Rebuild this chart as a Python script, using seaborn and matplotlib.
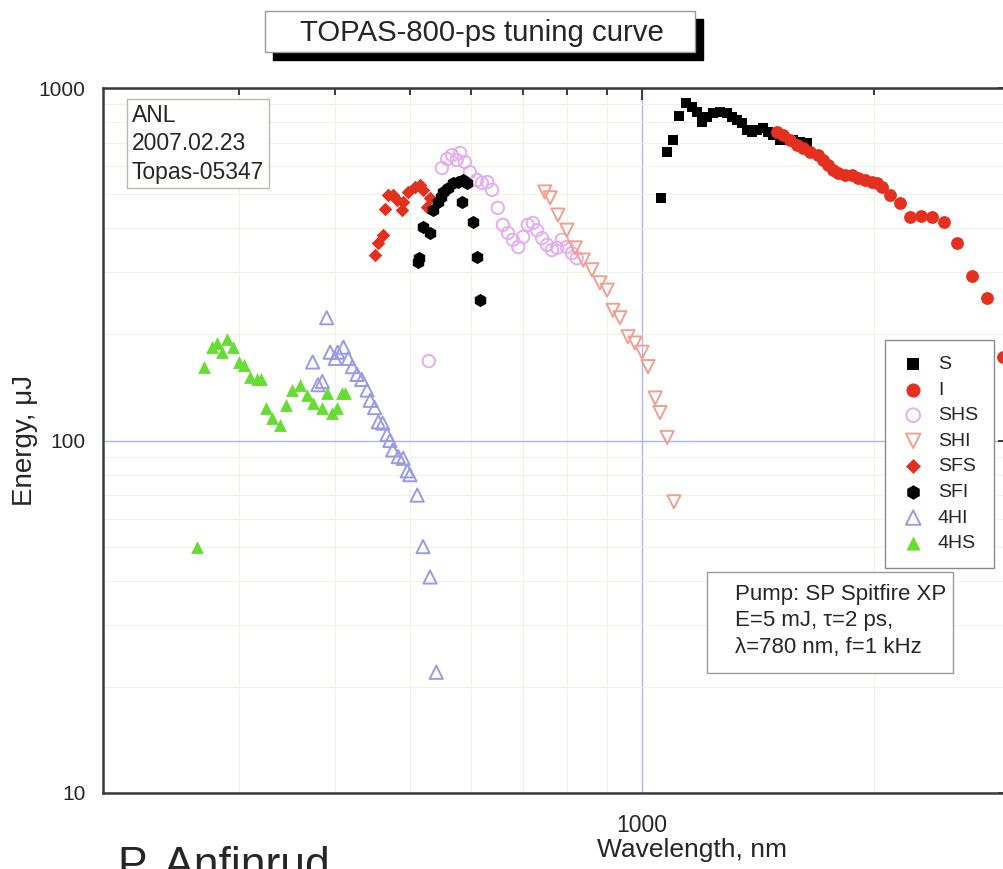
import numpy as np
import pandas as pd
import seaborn as sns
import matplotlib.pyplot as plt
from matplotlib.patches import Rectangle
from matplotlib.ticker import FixedLocator, FixedFormatter, NullFormatter

# values: wavelength (nm) and pulse energy (uJ)
s_wl = [1058, 1078, 1097, 1117, 1140, 1161, 1178, 1196, 1214, 1236, 1262, 1289, 1308,
        1328, 1348, 1368, 1389, 1410, 1435, 1457, 1479, 1510, 1542, 1570, 1603, 1637]
s_e = [488, 658, 712, 833, 907, 883, 855, 801, 827, 849, 855, 849, 827,
       811, 796, 760, 750, 760, 770, 750, 736, 712, 712, 712, 703, 698]

i_wl = [1497, 1523, 1556, 1589, 1618, 1652, 1692, 1717, 1743, 1769, 1796, 1834, 1873, 1906,
        1946, 1987, 2017, 2048, 2097, 2161, 2226, 2301, 2377, 2465, 2562, 2680, 2803, 2940]
i_e = [750, 736, 712, 689, 676, 658, 645, 625, 605, 585, 574, 567, 567, 556,
       548, 541, 538, 524, 497, 472, 431, 434, 431, 417, 363, 293, 254, 172]

shs_wl = [529, 550, 559, 567, 575, 581, 589, 598, 611, 620, 630, 639, 650, 660, 670,
          680, 691, 701, 711, 722, 731, 742, 753, 764, 776, 787, 799, 811, 823]
shs_e = [168, 593, 629, 645, 625, 654, 617, 577, 548, 538, 541, 514, 457, 409, 388,
         371, 354, 378, 409, 414, 395, 375, 359, 347, 352, 371, 354, 340, 329]

shi_wl = [748, 760, 778, 799, 819, 839, 861, 882, 901, 917, 936, 959, 979, 1000,
          1018, 1040, 1055, 1078, 1100]
shi_e = [507, 488, 436, 395, 352, 325, 305, 280, 267, 234, 223, 197, 189, 178,
         162, 132, 120, 102, 67]

sfs_wl = [450, 455, 461, 464, 468, 475, 481, 488, 490, 497, 508, 515, 520, 526, 531]
sfs_e = [336, 363, 383, 454, 497, 497, 481, 451, 475, 507, 524, 531, 514, 460, 488]

sfi_wl = [512, 514, 520, 531, 536, 544, 548, 552, 560, 569, 577, 586, 593, 584, 604, 611, 617]
sfi_e = [321, 330, 403, 388, 451, 475, 490, 507, 520, 538, 541, 548, 538, 475, 417, 332, 250]

fhi_wl = [374, 380, 385, 390, 394, 400, 403, 410, 416, 421, 427, 433, 440, 444,
          450, 455, 461, 467, 471, 475, 483, 490, 496, 500, 511, 520, 531, 541]
fhi_e = [167, 144, 147, 223, 178, 171, 178, 184, 171, 162, 154, 149, 139, 130,
         124, 113, 112, 104, 100, 94, 90, 89, 82, 80, 70, 50, 41, 22]

fhs_wl = [265, 270, 277, 281, 285, 290, 295, 300, 305, 310, 317, 321, 325,
          331, 339, 345, 352, 360, 368, 374, 385, 390, 396, 402, 408, 412]
fhs_e = [50, 162, 184, 189, 178, 194, 184, 167, 164, 151, 149, 149, 124,
         116, 111, 126, 139, 144, 135, 128, 124, 136, 120, 124, 136, 136]

x_major = [1000]
x_major_labels = ['1000']
x_minor = [300, 400, 500, 600, 700, 800, 900, 2000, 3000]
y_major = [10, 100, 1000]
y_major_labels = ['10', '100', '1000']
y_minor = [20, 30, 40, 50, 60, 70, 80, 90, 200, 300, 400, 500, 600, 700, 800, 900]

# name, x, y, marker, colour, filled, size
series = [
    ('S', s_wl, s_e, 's', '#000000', True, 55),
    ('I', i_wl, i_e, 'o', '#e5301f', True, 85),
    ('SHS', shs_wl, shs_e, 'o', '#e4aef0', False, 80),
    ('SHI', shi_wl, shi_e, 'v', '#f0a08e', False, 90),
    ('SFS', sfs_wl, sfs_e, 'D', '#e2301e', True, 48),
    ('SFI', sfi_wl, sfi_e, 'h', '#000000', True, 90),
    ('4HI', fhi_wl, fhi_e, '^', '#9a9ae6', False, 90),
    ('4HS', fhs_wl, fhs_e, '^', '#66dd33', True, 85),
]

sns.set_style('white')
plt.rcParams['font.family'] = ['Liberation Sans', 'DejaVu Sans']

W, H = 1004, 869
def fx(px):
    return px / W
def fy(py):
    return 1 - py / H

fig = plt.figure(figsize=(W / 100, H / 100), dpi=100)
ax = fig.add_axes([fx(103), fy(793), 907 / W, 705 / H])

for name, wl, en, mk, col, filled, size in series:
    sns.scatterplot(x=wl, y=en, marker=mk, s=size, color=col, ax=ax, label=name,
                    linewidth=0 if filled else 1.4, edgecolor=col, zorder=3)
    if not filled:
        ax.collections[-1].set_facecolor('none')
        ax.collections[-1].set_edgecolor(col)

ax.set_xscale('log')
ax.set_yscale('log')
ax.set_xlim(200, 3000)
ax.set_ylim(10, 1000)
ax.xaxis.set_major_locator(FixedLocator(x_major))
ax.xaxis.set_major_formatter(FixedFormatter(x_major_labels))
ax.xaxis.set_minor_locator(FixedLocator(x_minor))
ax.xaxis.set_minor_formatter(NullFormatter())
ax.yaxis.set_major_locator(FixedLocator(y_major))
ax.yaxis.set_major_formatter(FixedFormatter(y_major_labels))
ax.yaxis.set_minor_locator(FixedLocator(y_minor))
ax.yaxis.set_minor_formatter(NullFormatter())

ax.grid(which='minor', color='#eef3ea', lw=0.8)
ax.grid(which='major', color='#aab8f2', lw=1.0)
ax.set_axisbelow(True)

for sp in ax.spines.values():
    sp.set_color('#3a3a3a')
    sp.set_linewidth(1.8)
ax.tick_params(which='major', direction='out', length=8.5, width=1.4, color='#3a3a3a',
               labelsize=15, pad=4)
ax.tick_params(axis='x', which='major', pad=6.5, labelsize=16.5)
ax.tick_params(which='minor', direction='out', length=5, width=1.4, color='#3a3a3a')

# mirrored inward ticks on top and right
ax2 = fig.add_axes(ax.get_position(), frameon=False)
ax2.set_xscale('log')
ax2.set_yscale('log')
ax2.set_xlim(ax.get_xlim())
ax2.set_ylim(ax.get_ylim())
ax2.xaxis.set_major_locator(FixedLocator(x_major))
ax2.xaxis.set_minor_locator(FixedLocator(x_minor))
ax2.yaxis.set_major_locator(FixedLocator(y_major))
ax2.yaxis.set_minor_locator(FixedLocator(y_minor))
ax2.tick_params(which='both', direction='in', top=True, right=True, bottom=False, left=False,
                labeltop=False, labelright=False, labelbottom=False, labelleft=False,
                width=1.4, color='#3a3a3a')
ax2.tick_params(which='major', length=8.5)
ax2.tick_params(which='minor', length=5)
ax2.patch.set_visible(False)

ax.set_xlabel('Wavelength, nm', fontsize=19)
ax.set_ylabel('Energy, \u03bcJ', fontsize=20)
ax.xaxis.set_label_coords((692 - 103) / 907, -0.064)
ax.yaxis.set_label_coords((38 - 103) / 907, 0.5)

leg = ax.legend(loc='upper left', bbox_to_anchor=(fx(885), fy(340)), bbox_transform=fig.transFigure,
                fontsize=14, frameon=True, fancybox=False, framealpha=1, edgecolor='#8a8a8a',
                borderpad=0.8, handlelength=1.3, handletextpad=0.62, labelspacing=0.41,
                borderaxespad=0, markerscale=1.1)
leg.get_frame().set_linewidth(1.0)
leg.set_zorder(5)

# title box with drop shadow
fig.add_artist(Rectangle((fx(273), fy(60)), 430 / W, 41 / H, transform=fig.transFigure,
                         fc='black', ec='black', zorder=2))
fig.add_artist(Rectangle((fx(265), fy(52)), 430 / W, 41 / H, transform=fig.transFigure,
                         fc='white', ec='#9a9a9a', lw=1, zorder=3))
fig.text(fx(482), fy(33), 'TOPAS-800-ps tuning curve', ha='center', va='center',
         fontsize=21.2, zorder=4)

# info boxes
ax.text(fx(132), fy(104), 'ANL\n2007.02.23\nTopas-05347', transform=fig.transFigure,
        ha='left', va='top', fontsize=16.5, linespacing=1.3, zorder=5,
        bbox=dict(boxstyle='square,pad=0.2', fc='white', ec='#b5bdb0', lw=1))

fig.add_artist(Rectangle((fx(707), fy(673)), 246 / W, 101 / H, transform=fig.transFigure,
                         fc='white', ec='#9a9a9a', lw=1, zorder=3))
fig.text(fx(735), fy(584), 'Pump: SP Spitfire XP\nE=5 mJ, \u03c4=2 ps,\n\u03bb=780 nm, f=1 kHz',
         ha='left', va='top', fontsize=16, linespacing=1.33, zorder=4)

# slide footer, cut by the frame as in the slide photo
fig.text(fx(118), fy(878), 'P. Anfinrud', ha='left', va='baseline', fontsize=32, zorder=4)

fig.savefig('out.png', dpi=100)
